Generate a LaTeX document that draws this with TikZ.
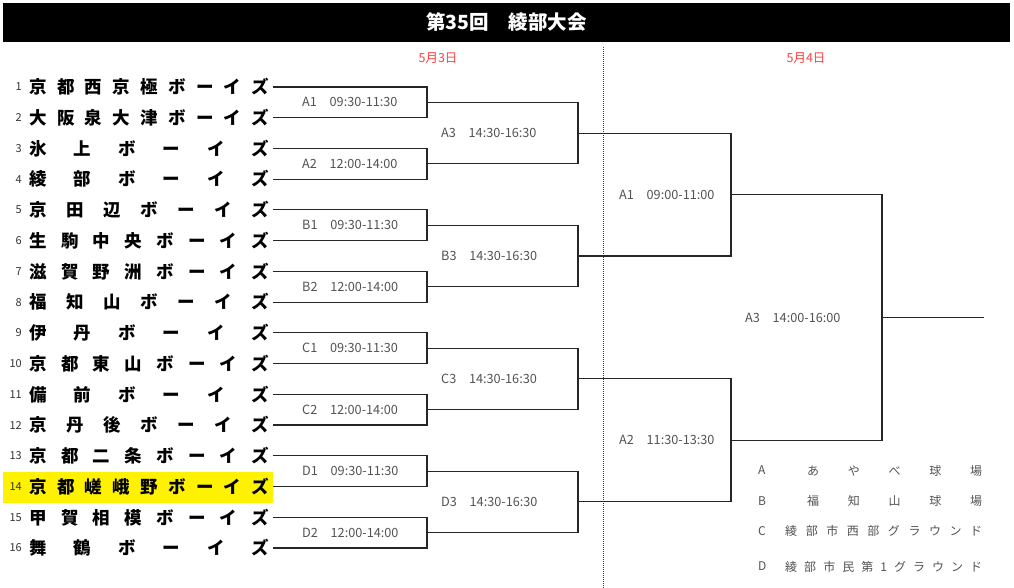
\documentclass[tikz,border=0pt]{standalone}
\usepackage{fontspec}
\setmainfont{Noto Sans CJK JP}
\usetikzlibrary{calc}

\newcommand{\spread}[2]{\makebox[#1][s]{\foreach \c [count=\k] in {#2}{\ifnum\k>1 \hfill\fi\c}}}

\begin{document}
\begin{tikzpicture}[x=1pt, y=-1pt]
    \colorlet{linecol}{black!85}
    \colorlet{labelcol}{black!68}
    \colorlet{datecol}{red!75!white}
    \tikzset{
        team/.style={anchor=east, inner xsep=3pt, inner ysep=0pt, font=\fontsize{17.5}{18}\selectfont\bfseries},
        num/.style={anchor=east, inner sep=0pt, font=\fontsize{11}{11}\selectfont, text=black!80},
        match/.style={anchor=west, inner sep=0pt, font=\fontsize{12.7}{13}\selectfont, text=labelcol},
        place/.style={anchor=west, inner sep=0pt, font=\fontsize{12}{12}\selectfont, text=labelcol},
        bline/.style={draw=linecol, line width=1.1pt},
    }
    \useasboundingbox (0,0) rectangle (1014,588);

    % title and days
    \node[fill=black, minimum width=1007pt, minimum height=39pt, inner sep=0pt,
          text=white, font=\fontsize{19.5}{20}\selectfont\bfseries] (title) at (506.5,22.5) {第35回　綾部大会};
    \node[inner sep=0pt, text=datecol, font=\fontsize{12.5}{13}\selectfont] (day1) at (438,58) {5月3日};
    \node[inner sep=0pt, text=datecol, font=\fontsize{12.5}{13}\selectfont] (day2) at (806,58) {5月4日};
    \draw[black!75, line width=0.8pt, dash pattern=on 1pt off 1pt] (603,47) -- (603,588);

    % highlighted team
    \fill[yellow] (3,471.5) rectangle (273,502.5);

    % teams
    \node[team] (t1)  at (272.5,87.00)  {\spread{240pt}{京,都,西,京,極,ボ,ー,イ,ズ}};
    \node[team] (t2)  at (272.5,117.73) {\spread{240pt}{大,阪,泉,大,津,ボ,ー,イ,ズ}};
    \node[team] (t3)  at (272.5,148.46) {\spread{240pt}{氷,上,ボ,ー,イ,ズ}};
    \node[team] (t4)  at (272.5,179.19) {\spread{240pt}{綾,部,ボ,ー,イ,ズ}};
    \node[team] (t5)  at (272.5,209.92) {\spread{240pt}{京,田,辺,ボ,ー,イ,ズ}};
    \node[team] (t6)  at (272.5,240.65) {\spread{240pt}{生,駒,中,央,ボ,ー,イ,ズ}};
    \node[team] (t7)  at (272.5,271.38) {\spread{240pt}{滋,賀,野,洲,ボ,ー,イ,ズ}};
    \node[team] (t8)  at (272.5,302.11) {\spread{240pt}{福,知,山,ボ,ー,イ,ズ}};
    \node[team] (t9)  at (272.5,332.84) {\spread{240pt}{伊,丹,ボ,ー,イ,ズ}};
    \node[team] (t10) at (272.5,363.57) {\spread{240pt}{京,都,東,山,ボ,ー,イ,ズ}};
    \node[team] (t11) at (272.5,394.30) {\spread{240pt}{備,前,ボ,ー,イ,ズ}};
    \node[team] (t12) at (272.5,425.03) {\spread{240pt}{京,丹,後,ボ,ー,イ,ズ}};
    \node[team] (t13) at (272.5,455.76) {\spread{240pt}{京,都,二,条,ボ,ー,イ,ズ}};
    \node[team] (t14) at (272.5,486.49) {\spread{240pt}{京,都,嵯,峨,野,ボ,ー,イ,ズ}};
    \node[team] (t15) at (272.5,517.22) {\spread{240pt}{甲,賀,相,模,ボ,ー,イ,ズ}};
    \node[team] (t16) at (272.5,547.95) {\spread{240pt}{舞,鶴,ボ,ー,イ,ズ}};

    % seed numbers
    \foreach \i in {1,...,16}
        \node[num] (n\i) at ($(22,0)!(t\i.center)!(22,1)$) {\i};

    % junctions
    \coordinate (jA1) at (427,102.37);
    \coordinate (jA2) at (427,163.83);
    \coordinate (jB1) at (427,225.29);
    \coordinate (jB2) at (427,286.75);
    \coordinate (jC1) at (427,348.21);
    \coordinate (jC2) at (427,409.67);
    \coordinate (jD1) at (427,471.13);
    \coordinate (jD2) at (427,532.59);
    \coordinate (jA3) at (578,133.10);
    \coordinate (jB3) at (578,256.02);
    \coordinate (jC3) at (578,378.94);
    \coordinate (jD3) at (578,501.86);
    \coordinate (kA1) at (731,194.56);
    \coordinate (kA2) at (731,440.40);
    \coordinate (fin) at (882,317.48);
    \coordinate (champ) at (984,317.48);

    % first round
    \draw[bline] (t1.east)  -| (jA1) |- (t2.east);
    \draw[bline] (t3.east)  -| (jA2) |- (t4.east);
    \draw[bline] (t5.east)  -| (jB1) |- (t6.east);
    \draw[bline] (t7.east)  -| (jB2) |- (t8.east);
    \draw[bline] (t9.east)  -| (jC1) |- (t10.east);
    \draw[bline] (t11.east) -| (jC2) |- (t12.east);
    \draw[bline] (t13.east) -| (jD1) |- (t14.east);
    \draw[bline] (t15.east) -| (jD2) |- (t16.east);

    % later rounds
    \draw[bline] (jA1) -| (jA3) |- (jA2);
    \draw[bline] (jB1) -| (jB3) |- (jB2);
    \draw[bline] (jC1) -| (jC3) |- (jC2);
    \draw[bline] (jD1) -| (jD3) |- (jD2);
    \draw[bline] (jA3) -| (kA1) |- (jB3);
    \draw[bline] (jC3) -| (kA2) |- (jD3);
    \draw[bline] (kA1) -| (fin) |- (kA2);
    \draw[bline] (fin) -- (champ);

    % match labels
    \node[match] (mA1) at (302,102.37) {A1　09:30-11:30};
    \node[match] (mA2) at (302,163.83) {A2　12:00-14:00};
    \node[match] (mB1) at (302,225.29) {B1　09:30-11:30};
    \node[match] (mB2) at (302,286.75) {B2　12:00-14:00};
    \node[match] (mC1) at (302,348.21) {C1　09:30-11:30};
    \node[match] (mC2) at (302,409.67) {C2　12:00-14:00};
    \node[match] (mD1) at (302,471.13) {D1　09:30-11:30};
    \node[match] (mD2) at (302,532.59) {D2　12:00-14:00};
    \node[match] (mA3) at (441,133.10) {A3　14:30-16:30};
    \node[match] (mB3) at (441,256.02) {B3　14:30-16:30};
    \node[match] (mC3) at (441,378.94) {C3　14:30-16:30};
    \node[match] (mD3) at (441,501.86) {D3　14:30-16:30};
    \node[match] (sA1) at (619,194.56) {A1　09:00-11:00};
    \node[match] (sA2) at (619,440.40) {A2　11:30-13:30};
    \node[match] (fA3) at (745,317.48) {A3　14:00-16:00};

    % grounds
    \node[place] (gA) at (758,470.5) {A};
    \node[place] (gB) at (758,501)   {B};
    \node[place] (gC) at (758,531)   {C};
    \node[place] (gD) at (758,566.5) {D};
    \node[place] (pA) at (807,470.5) {\spread{175pt}{あ,や,べ,球,場}};
    \node[place] (pB) at (807,501)   {\spread{175pt}{福,知,山,球,場}};
    \node[place] (pC) at (785,531)   {\spread{197pt}{綾,部,市,西,部,グ,ラ,ウ,ン,ド}};
    \node[place] (pD) at (785,566.5) {\spread{197pt}{綾,部,市,民,第,1,グ,ラ,ウ,ン,ド}};
\end{tikzpicture}
\end{document}
